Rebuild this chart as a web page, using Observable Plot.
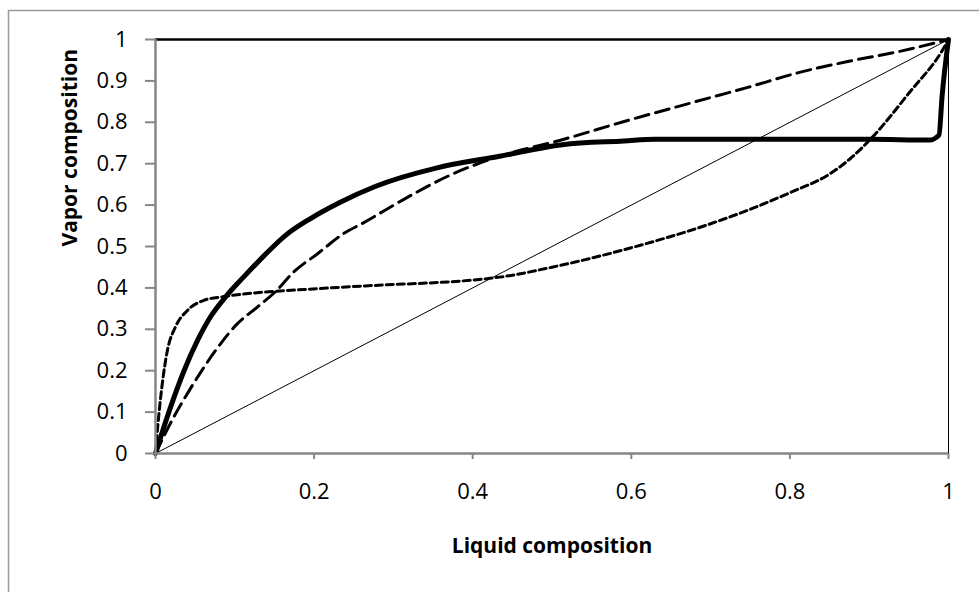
<!DOCTYPE html>
<html>
<head>
<meta charset="utf-8">
<script src="https://cdn.jsdelivr.net/npm/d3@7"></script>
<script src="https://cdn.jsdelivr.net/npm/@observablehq/plot@0.6"></script>
<style>
  html, body { margin: 0; padding: 0; background: #fff; }
  #chart { width: 979px; height: 592px; }
</style>
</head>
<body>
<div id="chart"></div>
<script>
// Thick solid curve (azeotrope plateau)
const solidX = [0, 0.019, 0.036, 0.053, 0.069, 0.09, 0.111, 0.137, 0.164, 0.195, 0.233, 0.277, 0.355, 0.434, 0.513, 0.591, 0.63, 0.748, 0.9, 0.976, 0.988, 0.992, 1];
const solidY = [0, 0.112, 0.2, 0.273, 0.329, 0.382, 0.426, 0.478, 0.527, 0.567, 0.607, 0.645, 0.69, 0.718, 0.746, 0.755, 0.759, 0.759, 0.759, 0.757, 0.769, 0.865, 1];
// Long-dashed curve
const longX = [0, 0.023, 0.04, 0.061, 0.082, 0.103, 0.128, 0.153, 0.174, 0.204, 0.237, 0.261, 0.316, 0.371, 0.434, 0.513, 0.591, 0.67, 0.748, 0.811, 0.876, 0.94, 1];
const longY = [0, 0.088, 0.144, 0.208, 0.265, 0.313, 0.353, 0.394, 0.438, 0.482, 0.531, 0.556, 0.617, 0.672, 0.718, 0.758, 0.802, 0.844, 0.885, 0.92, 0.948, 0.972, 1];
// Short-dashed S curve
const shortX = [0, 0.002, 0.008, 0.015, 0.025, 0.04, 0.061, 0.086, 0.12, 0.153, 0.204, 0.246, 0.277, 0.434, 0.5, 0.6, 0.7, 0.75, 0.8, 0.85, 0.876, 0.902, 0.952, 0.992, 1];
const shortY = [0, 0.047, 0.16, 0.249, 0.305, 0.345, 0.37, 0.379, 0.387, 0.392, 0.398, 0.403, 0.406, 0.426, 0.45, 0.497, 0.555, 0.59, 0.63, 0.675, 0.712, 0.76, 0.875, 0.973, 1];
// Diagonal y = x
const diagX = [0, 1];
const diagY = [0, 1];
// Axes
const xTicks = [0, 0.2, 0.4, 0.6, 0.8, 1];
const yTicks = [0, 0.1, 0.2, 0.3, 0.4, 0.5, 0.6, 0.7, 0.8, 0.9, 1];
const xLabel = "Liquid composition";
const yLabel = "Vapor composition";

const toRows = (xs, ys) => xs.map((x, i) => ({x, y: ys[i]}));

const font = "Open Sans, Lato, sans-serif";

const plot = Plot.plot({
  width: 979,
  height: 592,
  marginLeft: 155,
  marginRight: 31,
  marginTop: 39,
  marginBottom: 139,
  style: {fontFamily: font, fontSize: "22px", color: "#000", background: "#fff"},
  x: {domain: [0, 1]},
  y: {domain: [0, 1]},
  marks: [
    Plot.ruleY([1], {stroke: "#000", strokeWidth: 2.5}),
    Plot.ruleX([1], {stroke: "#000", strokeWidth: 1}),
    Plot.line(toRows(diagX, diagY), {x: "x", y: "y", stroke: "#000", strokeWidth: 1}),
    Plot.line(toRows(shortX, shortY), {x: "x", y: "y", stroke: "#000", strokeWidth: 3, strokeDasharray: "7,4", curve: "monotone-x"}),
    Plot.line(toRows(longX, longY), {x: "x", y: "y", stroke: "#000", strokeWidth: 3, strokeDasharray: "14,7", curve: "monotone-x"}),
    Plot.line(toRows(solidX, solidY), {x: "x", y: "y", stroke: "#000", strokeWidth: 5, curve: "monotone-x", strokeLinejoin: "round"}),
    Plot.ruleX([0], {stroke: "#868686", strokeWidth: 2.5}),
    Plot.ruleY([0], {stroke: "#868686", strokeWidth: 2.5}),
    Plot.axisY({ticks: yTicks, tickFormat: d => String(d), tickSize: 10, tickPadding: 18, stroke: "#868686", strokeWidth: 2, fontSize: 22, label: null}),
    Plot.axisX({ticks: xTicks, tickFormat: d => String(d), tickSize: 6, tickPadding: 24, stroke: "#868686", strokeWidth: 2, fontSize: 22, label: null}),
    Plot.text([yLabel], {frameAnchor: "left", dx: -85, rotate: -90, fontWeight: "bold", fontSize: 21}),
    Plot.text([xLabel], {frameAnchor: "bottom", dy: 99, fontWeight: "bold", fontSize: 21})
  ]
});

document.getElementById("chart").appendChild(plot);

// outer chart border (left and top visible)
d3.select(plot).append("path")
  .attr("d", "M8.5,592 L8.5,10.5 L979,10.5")
  .attr("fill", "none")
  .attr("stroke", "#9a9a9a")
  .attr("stroke-width", 1.5);
</script>
</body>
</html>
